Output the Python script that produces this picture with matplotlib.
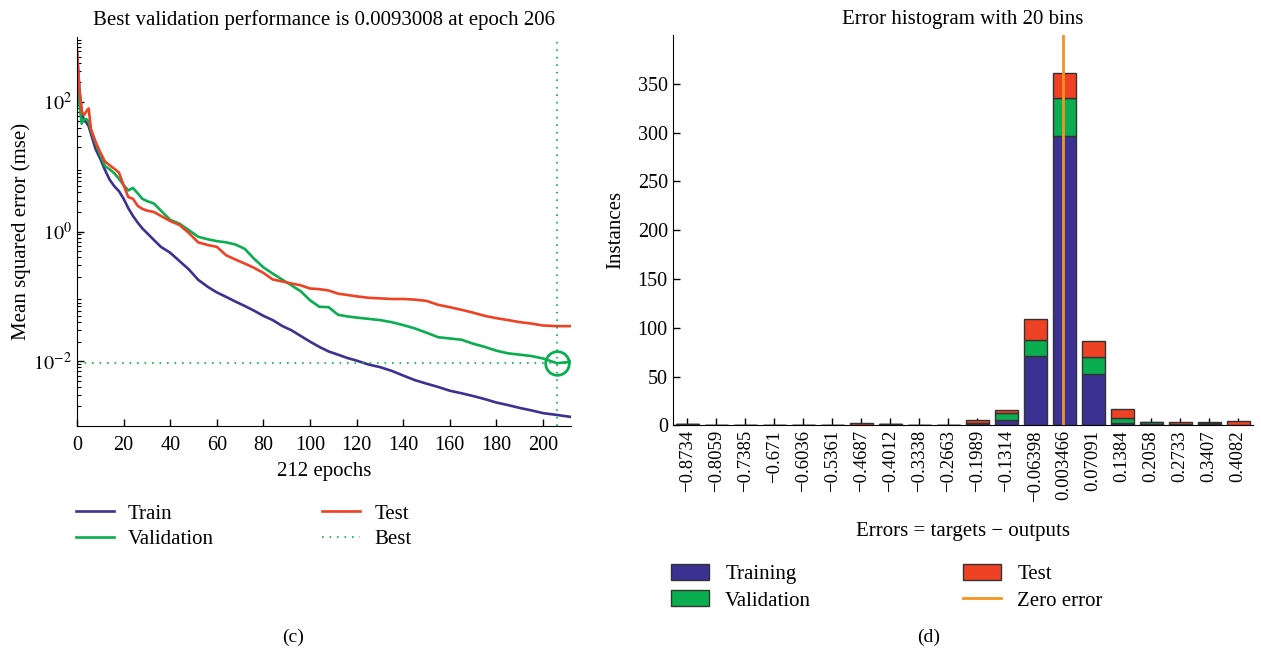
import numpy as np
import matplotlib.pyplot as plt
from matplotlib.patches import Patch
from matplotlib.lines import Line2D
from matplotlib.ticker import LogLocator, NullFormatter

plt.rcParams['font.family'] = ['Liberation Serif', 'DejaVu Serif']
plt.rcParams['mathtext.fontset'] = 'stix'
plt.rcParams['font.size'] = 14

# colours used by both panels
c_train = '#3b3192'
c_val = '#0aad4f'
c_test = '#ef4123'
c_zero = '#f7941d'

# --- training record (mse per epoch) ---
epochs = [0, 1, 2, 3, 4, 5, 6, 8, 10, 12, 14, 16, 18, 20, 22, 24, 26, 28, 30, 33,
          36, 40, 44, 48, 52, 56, 60, 64, 68, 72, 76, 80, 84, 88, 92, 96, 100, 104,
          108, 112, 116, 120, 125, 130, 135, 140, 145, 150, 155, 160, 165, 170, 175,
          180, 185, 190, 195, 200, 206, 212]
train_mse = [560, 160, 70, 52, 48, 42, 32, 18.6, 13.2, 8.9, 6.3, 5.0, 4.2, 3.2, 2.3,
             1.74, 1.38, 1.12, 0.95, 0.74, 0.58, 0.47, 0.35, 0.26, 0.18, 0.141, 0.115,
             0.098, 0.083, 0.071, 0.060, 0.050, 0.043, 0.035, 0.030, 0.0245, 0.020,
             0.0166, 0.0141, 0.0126, 0.0112, 0.0102, 0.0089, 0.0081, 0.0071, 0.0060,
             0.0051, 0.0045, 0.0040, 0.0035, 0.0032, 0.0029, 0.0026, 0.0023, 0.0021,
             0.0019, 0.00174, 0.00158, 0.00148, 0.00138]
val_mse = [480, 100, 46, 54, 54, 50, 36, 23, 15.1, 10.2, 9.1, 7.9, 6.5, 5.2, 4.3, 4.7,
           3.9, 3.2, 2.95, 2.7, 2.1, 1.51, 1.32, 1.05, 0.83, 0.76, 0.71, 0.68, 0.63,
           0.54, 0.38, 0.28, 0.224, 0.182, 0.148, 0.120, 0.087, 0.069, 0.068, 0.052,
           0.049, 0.047, 0.045, 0.043, 0.040, 0.036, 0.032, 0.0275, 0.0234, 0.0224,
           0.0214, 0.0186, 0.0166, 0.0145, 0.0132, 0.0126, 0.0120, 0.0110, 0.0093,
           0.0098]
test_mse = [650, 160, 71, 63, 71, 79, 38, 24, 16.6, 12.0, 10.5, 9.3, 8.1, 5.2, 3.4, 3.2,
            2.5, 2.24, 2.1, 2.0, 1.74, 1.45, 1.26, 0.95, 0.68, 0.62, 0.58, 0.43, 0.37,
            0.32, 0.275, 0.23, 0.182, 0.170, 0.158, 0.148, 0.132, 0.129, 0.123, 0.110,
            0.105, 0.100, 0.095, 0.093, 0.091, 0.091, 0.089, 0.085, 0.074, 0.068,
            0.062, 0.056, 0.050, 0.046, 0.043, 0.040, 0.038, 0.0355, 0.0347, 0.0347]
best_epoch = 206
best_perf = 0.0093008
n_epochs = 212

# --- error histogram ---
bin_labels = ['\u22120.8734', '\u22120.8059', '\u22120.7385', '\u22120.671', '\u22120.6036',
              '\u22120.5361', '\u22120.4687', '\u22120.4012', '\u22120.3338', '\u22120.2663',
              '\u22120.1989', '\u22120.1314', '\u22120.06398', '0.003466', '0.07091',
              '0.1384', '0.2058', '0.2733', '0.3407', '0.4082']
hist_train = [1, 0, 0, 0, 0, 0, 0, 1, 0, 0, 2, 5, 71, 296, 53, 2, 1, 1, 1, 0]
hist_val = [0, 0, 0, 0, 0, 0, 0, 0, 0, 0, 0, 8, 16, 39, 17, 5, 2, 0, 1, 0]
hist_test = [0, 0, 0, 0, 0, 0, 2, 0, 0, 0, 3, 3, 22, 26, 16, 10, 0, 2, 1, 4]

fig = plt.figure(figsize=(12.61, 6.56), dpi=100)

# ---------------- performance plot ----------------
ax1 = fig.add_axes([77 / 1261, 1 - 426 / 656, 494 / 1261, 389 / 656])
ax1.semilogy(epochs, train_mse, color=c_train, lw=1.9, label='Train')
ax1.semilogy(epochs, val_mse, color=c_val, lw=1.9, label='Validation')
ax1.semilogy(epochs, test_mse, color=c_test, lw=1.9, label='Test')
ax1.axvline(best_epoch, color=c_val, lw=1.2, ls=(0, (1, 3.5)), label='Best')
ax1.axhline(best_perf, color=c_val, lw=1.2, ls=(0, (1, 3.5)))
ax1.plot(best_epoch, best_perf, 'o', mfc='none', mec=c_val, ms=17, mew=2)

ax1.set_xlim(0, n_epochs)
ax1.set_ylim(1e-3, 1e3)
ax1.set_xticks(range(0, 201, 20))
ax1.set_yticks([1e-2, 1e0, 1e2])
ax1.yaxis.set_minor_locator(LogLocator(base=10, subs=np.arange(2, 10), numticks=20))
ax1.yaxis.set_minor_formatter(NullFormatter())
ax1.set_yticklabels([r'$10^{-2}$', r'$10^{0}$', r'$10^{2}$'])
ax1.tick_params(direction='in', length=5, width=1, labelsize=14.5)
ax1.tick_params(axis='x', pad=7)
ax1.tick_params(which='minor', direction='in', length=3, width=0.8)
ax1.spines['top'].set_visible(False)
ax1.spines['right'].set_visible(False)
ax1.set_title('Best validation performance is 0.0093008 at epoch 206', fontsize=15, pad=9)
ax1.set_xlabel('%d epochs' % n_epochs, fontsize=15, labelpad=5)
ax1.set_ylabel('Mean squared error (mse)', fontsize=15, labelpad=2)

h, l = ax1.get_legend_handles_labels()
fig.legend(h, l, loc='upper left', bbox_to_anchor=(76 / 1261, 1 - 504 / 656), ncol=2,
           frameon=False, fontsize=15, handlelength=1.8, handletextpad=0.7,
           labelspacing=0.3, columnspacing=5.2, borderpad=0, borderaxespad=0)

# ---------------- error histogram ----------------
ax2 = fig.add_axes([672.7 / 1261, 1 - 425.3 / 656, 580 / 1261, 390.3 / 656])
centers = np.array([float(s.replace('\u2212', '-')) for s in bin_labels])
dx = (centers[-1] - centers[0]) / (len(centers) - 1)
w = 0.8 * dx
tr = np.array(hist_train)
va = np.array(hist_val)
te = np.array(hist_test)
ax2.bar(centers, tr, w, color=c_train, edgecolor='#333333', lw=1.0, zorder=2)
ax2.bar(centers, va, w, bottom=tr, color=c_val, edgecolor='#333333', lw=1.0, zorder=2)
ax2.bar(centers, te, w, bottom=tr + va, color=c_test, edgecolor='#333333', lw=1.0, zorder=2)
ax2.axvline(0, color=c_zero, lw=2, zorder=3)

ax2.set_xlim(centers[0] - dx / 2, centers[-1] + dx / 2)
ax2.set_ylim(0, 400)
ax2.set_yticks(range(0, 351, 50))
ax2.set_xticks(centers)
ax2.set_xticklabels(bin_labels, rotation=90, fontsize=13.5)
ax2.tick_params(direction='in', length=5, width=1)
ax2.tick_params(axis='y', labelsize=14.5)
ax2.spines['top'].set_visible(False)
ax2.spines['right'].set_visible(False)
ax2.set_title('Error histogram with 20 bins', fontsize=15, pad=8)
ax2.set_xlabel('Errors = targets \u2212 outputs', fontsize=15, labelpad=15)
ax2.set_ylabel('Instances', fontsize=15, labelpad=9)

hist_handles = [Patch(facecolor=c_train, edgecolor='#333333'),
                Patch(facecolor=c_val, edgecolor='#333333'),
                Patch(facecolor=c_test, edgecolor='#333333'),
                Line2D([], [], color=c_zero, lw=2)]
fig.legend(hist_handles, ['Training', 'Validation', 'Test', 'Zero error'],
           loc='upper left', bbox_to_anchor=(671 / 1261, 1 - 564 / 656), ncol=2,
           frameon=False, fontsize=15, handlelength=1.8, handleheight=0.8,
           handletextpad=0.8, labelspacing=0.3, columnspacing=7.3,
           borderpad=0, borderaxespad=0)

# panel captions
fig.text(293 / 1261, 1 - 637 / 656, '(c)', ha='center', va='center', fontsize=14)
fig.text(929 / 1261, 1 - 637 / 656, '(d)', ha='center', va='center', fontsize=14)

fig.savefig('out.png', dpi=100)
